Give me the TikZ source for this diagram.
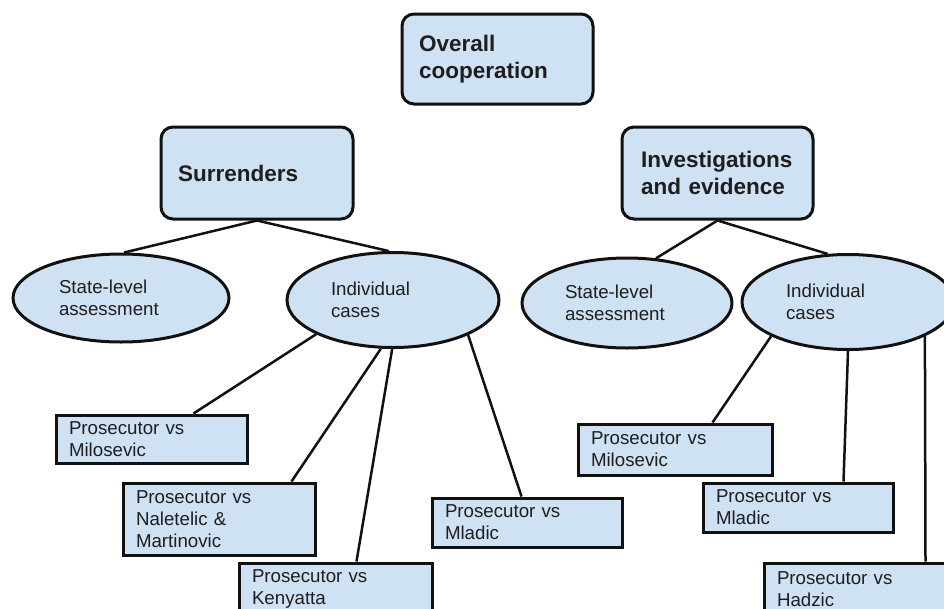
\documentclass[tikz,border=0pt]{standalone}
\usepackage{fontspec}
\setmainfont{Liberation Sans}
\usetikzlibrary{shapes.geometric,calc}
\definecolor{boxfill}{HTML}{CFE2F3}
\definecolor{ink}{HTML}{111111}
\definecolor{txt}{HTML}{1E1E1E}
\begin{document}
\begin{tikzpicture}[x=1pt,y=-1pt,
  topbox/.style={draw=ink, line width=3pt, fill=boxfill, rounded corners=12pt,
    font=\fontsize{22.5}{27}\selectfont\bfseries, text=txt, align=left,
    inner xsep=17pt, inner ysep=0pt},
  oval/.style={ellipse, draw=ink, line width=3pt, fill=boxfill,
    text width=124pt, align=left, inner sep=0pt,
    font=\fontsize{18.7}{22}\selectfont, text=txt},
  casebox/.style={draw=ink, line width=3pt, fill=boxfill, inner xsep=13pt,
    inner ysep=0pt, align=left, font=\fontsize{18.7}{22}\selectfont, text=txt},
  link/.style={draw=ink, line width=2.5pt}]
\useasboundingbox (0,0) rectangle (944,608);
\clip (0,0) rectangle (944,608);
\fill[white] (0,0) rectangle (944,608);

% top level boxes
\node[topbox, minimum width=191pt, minimum height=90pt, text width=157pt] (overall) at (497.5,59) {Overall\\cooperation};
\node[topbox, minimum width=192pt, minimum height=92pt, text width=158pt] (surr) at (257,173) {Surrenders};
\node[topbox, inner xsep=19pt, minimum width=191pt, minimum height=92pt, text width=153pt] (inv) at (717.5,173) {Investigations\\and evidence};

% ellipses
\node[oval, minimum width=216pt, minimum height=88pt] (sl1) at (121,298) {State-level\\assessment};
\node[oval, minimum width=212pt, minimum height=95pt] (ic1) at (393,300) {Individual\\cases};
\node[oval, minimum width=210pt, minimum height=90pt] (sl2) at (627,303) {State-level\\assessment};
\node[oval, minimum width=212pt, minimum height=95pt] (ic2) at (848,302) {Individual\\cases};

% case boxes
\node[casebox, minimum height=48pt, text width=165pt] (mil1) at (151.5,439) {Prosecutor vs\\Milosevic};
\node[casebox, minimum height=72pt, text width=166pt] (nal) at (219,519) {Prosecutor vs\\Naletelic \&\\Martinovic};
\node[casebox, minimum height=52pt, text width=167pt] (ken) at (335.5,589) {Prosecutor vs\\Kenyatta};
\node[casebox, minimum height=49pt, text width=164pt] (mla1) at (527,522.5) {Prosecutor vs\\Mladic};
\node[casebox, minimum height=51pt, text width=168pt] (mil2) at (675,449.5) {Prosecutor vs\\Milosevic};
\node[casebox, minimum height=49pt, text width=164pt] (mla2) at (798,507.5) {Prosecutor vs\\Mladic};
\node[casebox, minimum height=52pt, text width=166pt] (had) at (860,589) {Prosecutor vs\\Hadzic};

% connectors
\draw[link] (surr.south) -- (sl1.86);
\draw[link] (surr.south) -- (ic1.95);
\draw[link] (inv.south) -- (sl2.57);
\draw[link] (inv.south) -- (ic2.113);

\draw[link] (ic1.204) -- ($(mil1.north west)+(139,0)$);
\draw[link] (ic1.256) -- ($(nal.north west)+(170,0)$);
\draw[link] (ic1.269) -- ($(ken.north west)+(119,0)$);
\draw[link] (ic1.335) -- ($(mla1.north west)+(91,0)$);
\draw[link] (ic2.204) -- ($(mil2.north west)+(136,0)$);
\draw[link] (ic2.270) -- ($(mla2.north west)+(142,0)$);
\draw[link] (ic2.336) -- ($(had.north west)+(163,0)$);
\end{tikzpicture}
\end{document}
